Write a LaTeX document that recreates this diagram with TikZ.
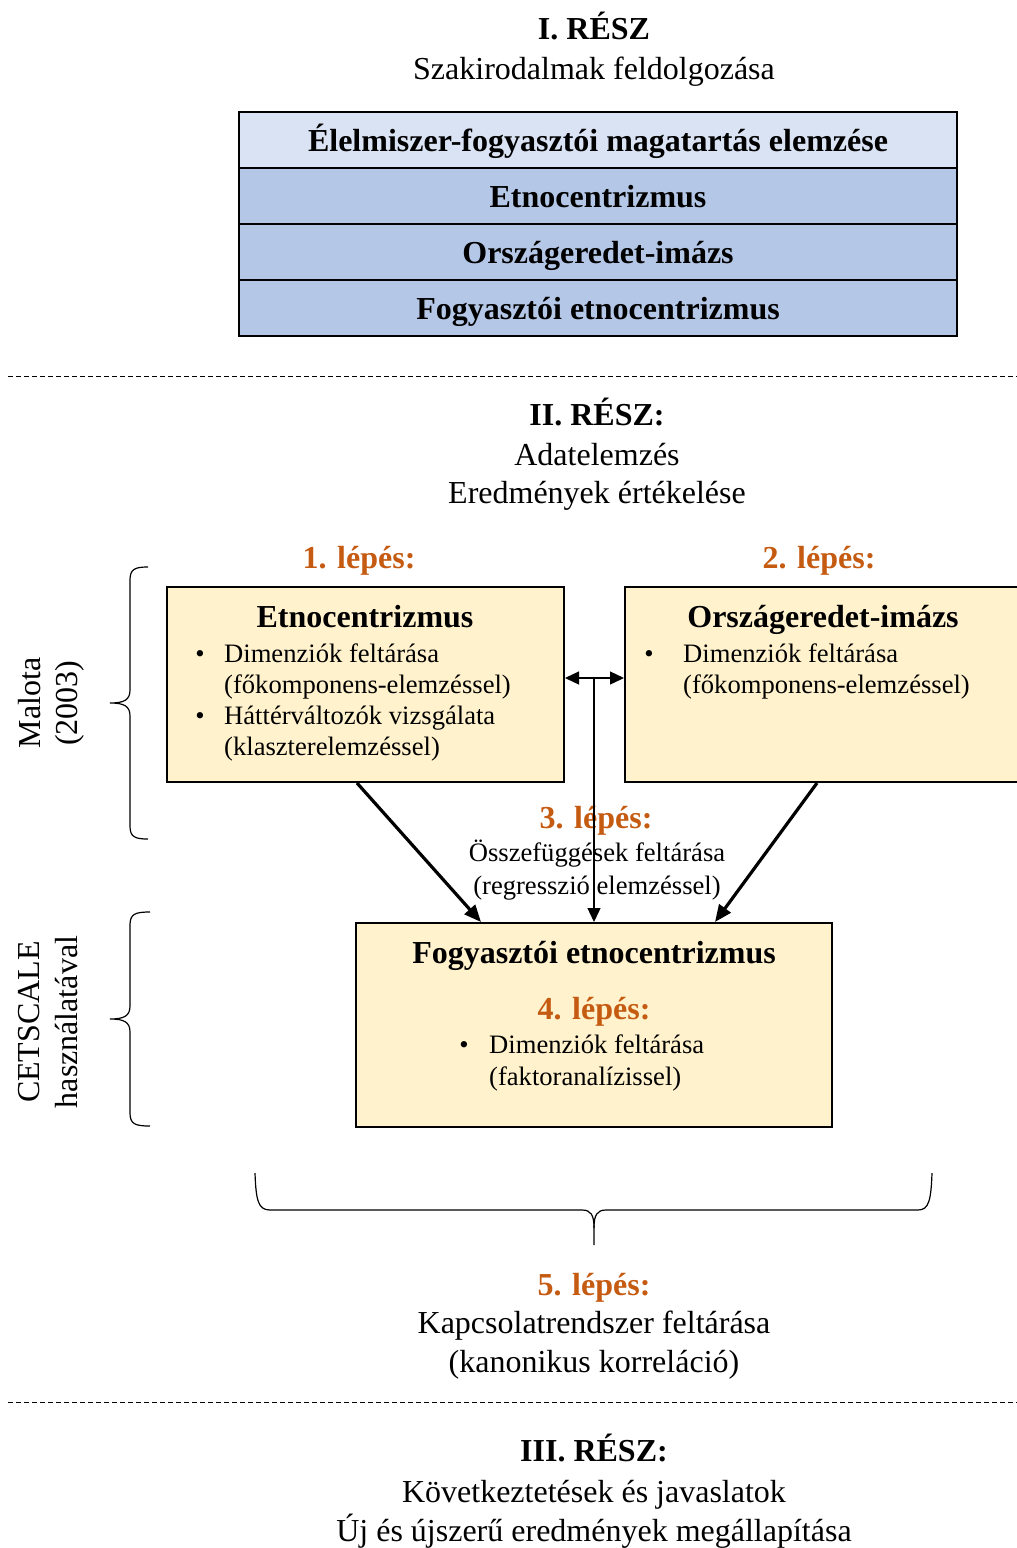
\documentclass[tikz,border=0pt]{standalone}
\usepackage{fontspec}
\setmainfont{Liberation Serif}
\usetikzlibrary{arrows.meta,calc}
\definecolor{stepc}{HTML}{C55A11}
\definecolor{paleblue}{HTML}{DAE3F3}
\definecolor{midblue}{HTML}{B4C7E7}
\definecolor{cream}{HTML}{FFF2CC}
\begin{document}
\begin{tikzpicture}[x=1pt,y=-1pt,
  big/.style={font=\fontsize{32}{38}\selectfont, inner sep=0pt, anchor=base},
  head/.style={font=\fontsize{32}{38}\selectfont\bfseries, inner sep=0pt, anchor=base},
  stepno/.style={head, text=stepc},
  body/.style={font=\fontsize{26.6}{31}\selectfont, inner sep=0pt, anchor=base west},
  bodyc/.style={font=\fontsize{26.6}{31}\selectfont, inner sep=0pt, anchor=base},
  layer/.style={draw, line width=2pt, minimum width=718pt, minimum height=56pt,
    inner sep=0pt, font=\fontsize{32}{38}\selectfont\bfseries,
    text height=22pt, text depth=0pt},
  card/.style={draw, line width=2pt, fill=cream, inner sep=0pt},
  sep/.style={dash pattern=on 5pt off 3pt, line width=1pt},
  brace/.style={line width=1.2pt},
  boldarrow/.style={line width=3.2pt, -{Triangle[length=17pt,width=14pt]}},
  thinarrow/.style={line width=1.3pt, -{Triangle[length=14pt,width=13pt]}},
]
\useasboundingbox (0,0) rectangle (1017,1548);

% ---- Part I ----
\node[head] (p1) at (594,39) {I. RÉSZ};
\node[big] (p1a) at (594,79) {Szakirodalmak feldolgozása};

\node[layer, fill=paleblue] (s1) at (598,140) {Élelmiszer-fogyasztói magatartás elemzése};
\node[layer, fill=midblue] (s2) at (598,196) {Etnocentrizmus};
\node[layer, fill=midblue] (s3) at (598,252) {Országeredet-imázs};
\node[layer, fill=midblue] (s4) at (598,308) {Fogyasztói etnocentrizmus};

\draw[sep] (8,376) -- (1017,376);

% ---- Part II ----
\node[head] (p2) at (597,425) {II. RÉSZ:};
\node[big] (p2a) at (597,465) {Adatelemzés};
\node[big] (p2b) at (597,503) {Eredmények értékelése};

\node[stepno] (st1) at (359,568) {1. lépés:};
\node[stepno] (st2) at (819,568) {2. lépés:};

\node[card, minimum width=397pt, minimum height=195pt] (b1) at (365.5,684.5) {};
\node[card, minimum width=415pt, minimum height=195pt] (b2) at (832.5,684.5) {};
\node[card, minimum width=476pt, minimum height=204pt] (b3) at (594,1025) {};

\node[head] (b1t) at (365,627) {Etnocentrizmus};
\node[bodyc] (b1d1) at (200,662) {•};
\node[body] (b1l1) at (224,662) {Dimenziók feltárása};
\node[body] (b1l2) at (224,693) {(főkomponens-elemzéssel)};
\node[bodyc] (b1d2) at (200,724) {•};
\node[body] (b1l3) at (224,724) {Háttérváltozók vizsgálata};
\node[body] (b1l4) at (224,755) {(klaszterelemzéssel)};

\node[head] (b2t) at (823,627) {Országeredet-imázs};
\node[bodyc] (b2d1) at (649,662) {•};
\node[body] (b2l1) at (683,662) {Dimenziók feltárása};
\node[body] (b2l2) at (683,693) {(főkomponens-elemzéssel)};

\node[stepno] (st3) at (596,828) {3. lépés:};
\node[bodyc] (st3a) at (597,861) {Összefüggések feltárása};
\node[bodyc] (st3b) at (597,894) {(regresszió elemzéssel)};

\node[head] (b3t) at (594,963) {Fogyasztói etnocentrizmus};
\node[stepno] (st4) at (594,1019) {4. lépés:};
\node[bodyc] (b3d1) at (464,1053) {•};
\node[body] (b3l1) at (489,1053) {Dimenziók feltárása};
\node[body] (b3l2) at (489,1085) {(faktoranalízissel)};

% connectors
\coordinate (mid) at (594,678);
\draw[thinarrow, {Triangle[length=14pt,width=13pt]}-{Triangle[length=14pt,width=13pt]}]
  (b1.east |- mid) -- (b2.west |- mid);
\draw[thinarrow] (mid) -- (mid |- b3.north);
\draw[boldarrow] (b1.south -| 357,0) -- (b3.north -| 481,0);
\draw[boldarrow] (b2.south -| 817,0) -- (b3.north -| 715,0);

% side braces and their labels
\draw[brace] (148,567) .. controls (135,567) and (130,569) .. (130,580) -- (130,690)
  .. controls (130,700) and (124,703) .. (110,703)
  .. controls (124,703) and (130,706) .. (130,716) -- (130,826)
  .. controls (130,837) and (135,839) .. (148,839);
\node[big, rotate=90] (m1) at (40,703) {Malota};
\node[big, rotate=90] (m2) at (77,703) {(2003)};

\draw[brace] (150,912) .. controls (135,912) and (130,914) .. (130,925) -- (130,1006)
  .. controls (130,1016) and (124,1019) .. (110,1019)
  .. controls (124,1019) and (130,1022) .. (130,1032) -- (130,1113)
  .. controls (130,1124) and (135,1126) .. (150,1126);
\node[big, rotate=90] (c1) at (39,1022) {CETSCALE};
\node[big, rotate=90] (c2) at (77,1022) {használatával};

% bottom brace
\draw[brace] (255,1173) .. controls (256,1200) and (258,1210) .. (270,1210) -- (582,1210)
  .. controls (591,1210) and (594,1215) .. (594,1228) -- (594,1245);
\draw[brace] (932,1173) .. controls (931,1200) and (929,1210) .. (918,1210) -- (606,1210)
  .. controls (597,1210) and (594,1215) .. (594,1228);

\node[stepno] (st5) at (594,1295) {5. lépés:};
\node[big] (st5a) at (594,1333) {Kapcsolatrendszer feltárása};
\node[big] (st5b) at (594,1372) {(kanonikus korreláció)};

\draw[sep] (8,1402) -- (1017,1402);

% ---- Part III ----
\node[head] (p3) at (594,1461) {III. RÉSZ:};
\node[big] (p3a) at (594,1502) {Következtetések és javaslatok};
\node[big] (p3b) at (594,1541) {Új és újszerű eredmények megállapítása};
\end{tikzpicture}
\end{document}
